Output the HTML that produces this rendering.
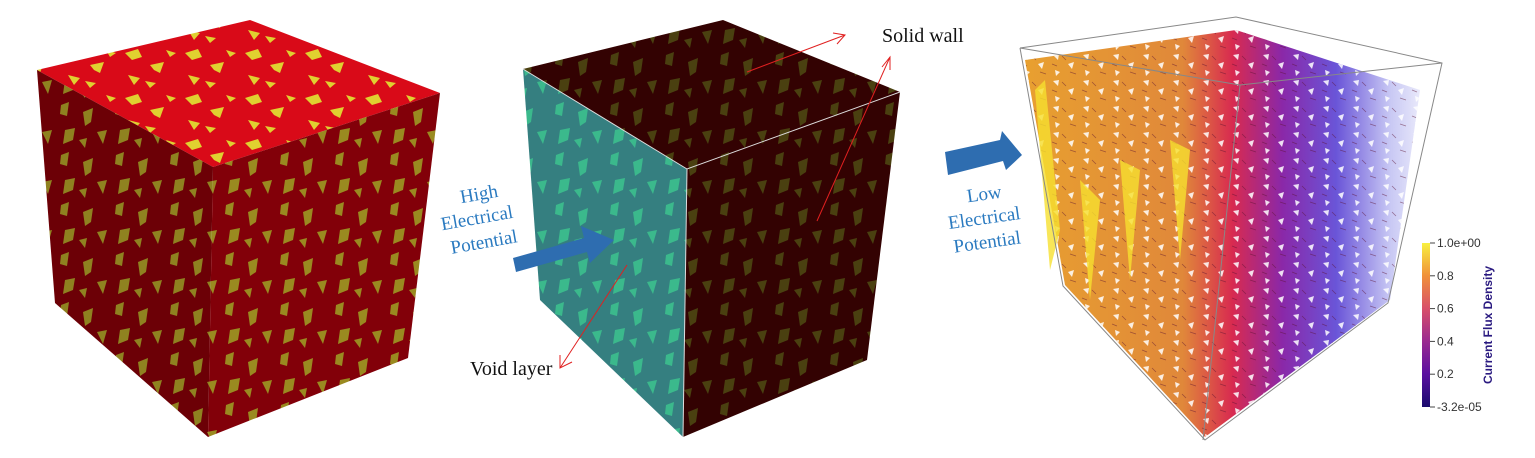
<!DOCTYPE html>
<html><head><meta charset="utf-8"><style>
html,body{margin:0;padding:0;background:#fff;}
svg{display:block;}
text{font-family:"Liberation Serif",serif;}
</style></head><body>
<svg width="1535" height="458" viewBox="0 0 1535 458" xmlns="http://www.w3.org/2000/svg">
<defs>
<pattern id="pTop1" width="60" height="45" patternUnits="userSpaceOnUse">
<rect width="60" height="45" fill="#d90a18"/>
<path d="M5 8 L18 4 L22 12 L12 15 Z M30 20 L44 17 L40 28 L34 25 Z M8 30 L20 33 L14 40 Z M46 5 L56 8 L50 12 Z M25 36 L36 38 L30 43 Z" fill="#e0d030"/>
</pattern>
<pattern id="pSide1" width="55" height="50" patternUnits="userSpaceOnUse">
<rect width="55" height="50" fill="#820009"/>
<path d="M6 5 L14 2 L12 16 L5 14 Z M28 12 L38 8 L36 22 L30 26 Z M10 30 L20 28 L18 40 L8 44 Z M42 32 L52 30 L48 44 Z M24 40 L32 38 L30 48 Z" fill="#9a8a20"/>
</pattern>
<pattern id="pSide1b" width="55" height="50" patternUnits="userSpaceOnUse">
<rect width="55" height="50" fill="#6c0006"/>
<path d="M6 5 L14 2 L12 16 L5 14 Z M28 12 L38 8 L36 22 L30 26 Z M10 30 L20 28 L18 40 L8 44 Z M42 32 L52 30 L48 44 Z M24 40 L32 38 L30 48 Z" fill="#8f8220"/>
</pattern>
<pattern id="pTeal" width="55" height="50" patternUnits="userSpaceOnUse">
<rect width="55" height="50" fill="#357f80"/>
<path d="M6 5 L14 2 L12 16 L5 14 Z M28 12 L38 8 L36 22 L30 26 Z M10 30 L20 28 L18 40 L8 44 Z M42 32 L52 30 L48 44 Z M24 40 L32 38 L30 48 Z" fill="#3bb98c"/>
</pattern>
<pattern id="pDark" width="55" height="50" patternUnits="userSpaceOnUse">
<rect width="55" height="50" fill="#330202"/>
<path d="M6 5 L14 2 L12 16 L5 14 Z M28 12 L38 8 L36 22 L30 26 Z M10 30 L20 28 L18 40 L8 44 Z M42 32 L52 30 L48 44 Z M24 40 L32 38 L30 48 Z" fill="#4a4010"/>
</pattern>
<linearGradient id="gFlux" x1="1025" y1="0" x2="1440" y2="0" gradientUnits="userSpaceOnUse">
<stop offset="0" stop-color="#e8a030"/><stop offset="0.38" stop-color="#e0883a"/>
<stop offset="0.5" stop-color="#d82a50"/><stop offset="0.62" stop-color="#8a28a8"/>
<stop offset="0.75" stop-color="#6a55d8"/><stop offset="0.88" stop-color="#c8c8f4"/><stop offset="1" stop-color="#ffffff"/>
</linearGradient>
<pattern id="pHoles" width="30" height="26" patternUnits="userSpaceOnUse">
<path d="M3 3 L9 2 L8 8 Z M18 12 L24 10 L22 17 Z M5 18 L10 20 L6 24 Z" fill="#fff" opacity="0.85"/>
<path d="M12 4 L16 8 M20 20 L26 22 M2 12 L7 14" stroke="#5a1030" stroke-width="0.8" opacity="0.5"/>
</pattern>
<linearGradient id="gBar" x1="0" y1="1" x2="0" y2="0">
<stop offset="0" stop-color="#1a0b6e"/><stop offset="0.2" stop-color="#5a10a0"/><stop offset="0.4" stop-color="#9a2a90"/><stop offset="0.6" stop-color="#d8506a"/><stop offset="0.8" stop-color="#f0903a"/><stop offset="1" stop-color="#f8f040"/>
</linearGradient>
</defs>

<g>
<polygon points="250,20 37,70 213,167 440,93" fill="url(#pTop1)"/>
<polygon points="37,70 213,167 208,437 55,303" fill="url(#pSide1b)"/>
<polygon points="213,167 440,93 408,358 208,437" fill="url(#pSide1)"/>
</g>

<g>
<polygon points="723,20 523,69 687,169 900,92" fill="url(#pDark)"/>
<polygon points="523,69 687,169 683,437 540,300" fill="url(#pTeal)"/>
<polygon points="687,169 900,92 867,360 683,437" fill="url(#pDark)"/>
<polyline points="523,69 687,169 900,92" fill="none" stroke="#ddd" stroke-width="1"/>
<line x1="687" y1="169" x2="683" y2="437" stroke="#ddd" stroke-width="1"/>
</g>

<g>
<polygon points="513,258 584,238 581,226 614,240 590,263 587,252 516,272" fill="#2e6db0"/>
</g>
<g>
<polygon points="945,152 1000,140 1002,131 1022,155 1006,170 1003,161 948,175" fill="#2e6db0"/>
</g>

<text x="480" y="200" font-size="19" fill="#2a7ac0" text-anchor="middle" transform="rotate(-10 480 200)">High</text>
<text x="478" y="224" font-size="19" fill="#2a7ac0" text-anchor="middle" transform="rotate(-10 478 224)">Electrical</text>
<text x="485" y="248" font-size="19" fill="#2a7ac0" text-anchor="middle" transform="rotate(-10 485 248)">Potential</text>
<text x="985" y="200" font-size="19" fill="#2a7ac0" text-anchor="middle" transform="rotate(-8 985 200)">Low</text>
<text x="985" y="224" font-size="19" fill="#2a7ac0" text-anchor="middle" transform="rotate(-8 985 224)">Electrical</text>
<text x="988" y="248" font-size="19" fill="#2a7ac0" text-anchor="middle" transform="rotate(-8 988 248)">Potential</text>

<g stroke="#e02020" stroke-width="1" fill="none">
<line x1="747" y1="72" x2="845" y2="35"/><polyline points="833,33 845,35 837,44"/>
<line x1="817" y1="221" x2="890" y2="57"/><polyline points="882,67 890,57 890,70"/>
<line x1="627" y1="265" x2="560" y2="368"/><polyline points="560,355 560,368 572,362"/>
</g>
<text x="882" y="42" font-size="20" fill="#111">Solid wall</text>
<text x="470" y="375" font-size="20" fill="#111">Void layer</text>

<g>
<polygon points="1025,60 1236,30 1420,90 1390,300 1205,437 1065,285" fill="url(#gFlux)"/>
<polygon points="1025,60 1236,30 1420,90 1390,300 1205,437 1065,285" fill="url(#pHoles)"/>
<path d="M1035,90 L1050,270 L1060,230 L1045,80 Z M1080,180 L1090,300 L1100,200Z M1120,160 L1130,280 L1140,170Z M1170,140 L1180,260 L1190,150Z" fill="#f6e030" opacity="0.8"/>
<g stroke="#888" stroke-width="1" fill="none">
<polyline points="1020,48 1236,17 1442,63 1388,303 1205,440 1063,286 1020,48"/>
<line x1="1020" y1="48" x2="1240" y2="85"/><line x1="1240" y1="85" x2="1442" y2="63"/>
<line x1="1240" y1="85" x2="1203" y2="440"/>
</g>
</g>

<g id="colorbar">
<rect x="1422" y="243" width="8" height="164" fill="url(#gBar)"/>
<text x="1492" y="325" font-size="12" font-weight="bold" fill="#2a1a80" text-anchor="middle" transform="rotate(-90 1492 325)" style="font-family:'Liberation Sans',sans-serif">Current Flux Density</text>
</g>
<script>
const tickValues = [1.0, 0.8, 0.6, 0.4, 0.2, -0.000032];
const tickLabels = ["1.0e+00", "0.8", "0.6", "0.4", "0.2", "-3.2e-05"];
const ns = "http://www.w3.org/2000/svg";
const bar = document.getElementById("colorbar");
function yScale(v){ return 407 - (v - (-0.000032)) / (1.0 + 0.000032) * 164; }
tickValues.forEach((v, i) => {
  const y = yScale(v);
  const t = document.createElementNS(ns, "line");
  t.setAttribute("x1", 1430); t.setAttribute("x2", 1435);
  t.setAttribute("y1", y); t.setAttribute("y2", y);
  t.setAttribute("stroke", "#444");
  
  
  bar.appendChild(t);
  const l = document.createElementNS(ns, "text");
  l.setAttribute("x", 1437); l.setAttribute("y", y + 4);
  l.setAttribute("font-size", "12");
  l.setAttribute("fill", "#333");
  l.style.fontFamily = "'Liberation Sans',sans-serif";
  l.textContent = tickLabels[i];
  
  
  bar.appendChild(l);
});
</script>
</svg>
</body></html>
